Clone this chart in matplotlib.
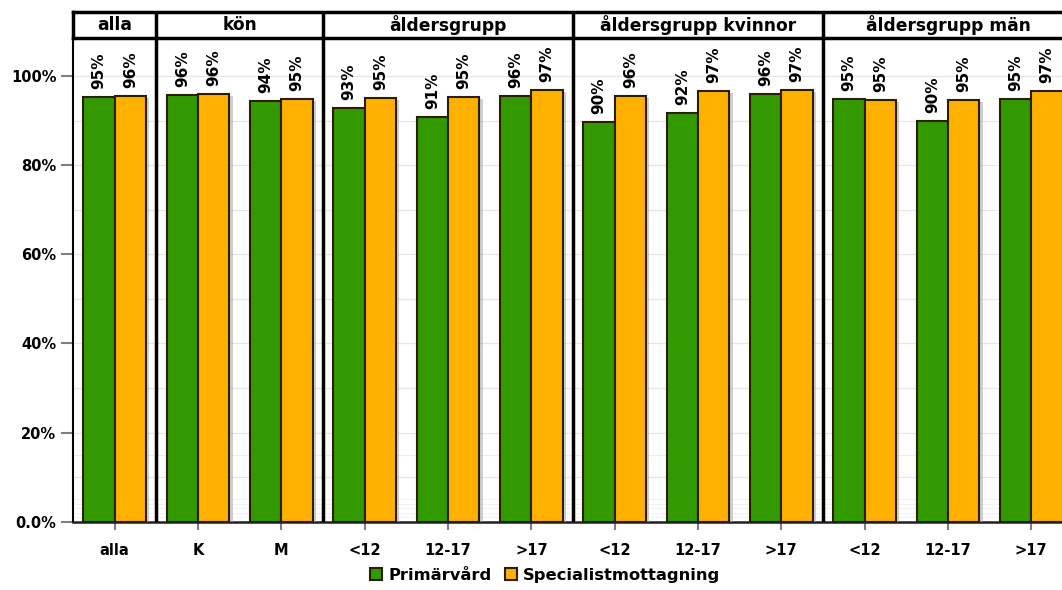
import matplotlib
matplotlib.use('Agg')
import matplotlib.pyplot as plt
from matplotlib.patches import Rectangle
import matplotlib.patheffects as pe

# ---- data ----
categories = ['alla', 'K', 'M', '<12', '12-17', '>17', '<12', '12-17', '>17', '<12', '12-17', '>17']
panels = ['alla', 'kön', 'åldersgrupp', 'åldersgrupp kvinnor', 'åldersgrupp män']
panel_sizes = [1, 2, 3, 3, 3]
primarvard = [95.2, 95.8, 94.3, 92.8, 90.8, 95.6, 89.6, 91.7, 96.0, 94.8, 89.9, 94.8]
specialist = [95.6, 96.0, 94.8, 95.0, 95.3, 96.8, 95.6, 96.6, 96.9, 94.7, 94.6, 96.6]
series_names = ['Primärvård', 'Specialistmottagning']
yticks = [0, 20, 40, 60, 80, 100]
ytick_labels = ['0.0%', '20%', '40%', '60%', '80%', '100%']

GREEN = '#339900'
ORANGE = '#FFB000'
EDGE = '#2a1f05'

plt.rcParams['font.family'] = ['DejaVu Sans']
W, H = 1062, 590
fig = plt.figure(figsize=(W / 100, H / 100), dpi=100)

left = 73 / W
width = 12 * 83.33 / W
y0 = 521.7
ytop = 38.3
ax = fig.add_axes([left, (H - y0) / H, width, (y0 - ytop) / H])
hax = fig.add_axes([left, (H - ytop) / H, width, 26 / H])

n = len(categories)
xs = list(range(n))
bw = 0.375
shadow = [pe.SimplePatchShadow(offset=(2.5, -1.5), shadow_rgbFace='#a0a0a0', alpha=0.5), pe.Normal()]

b1 = ax.bar([x - bw / 2 for x in xs], primarvard, width=bw, color=GREEN,
            edgecolor=EDGE, linewidth=1.5, zorder=3)
b2 = ax.bar([x + bw / 2 for x in xs], specialist, width=bw, color=ORANGE,
            edgecolor=EDGE, linewidth=1.5, zorder=3)
for bars in (b1, b2):
    for r in bars:
        r.set_path_effects(shadow)

for x, v in zip(xs, primarvard):
    ax.text(x - bw / 2, v + 1.8, f'{v:.0f}%', rotation=90, ha='center', va='bottom',
            fontsize=11, fontweight='bold', zorder=5)
for x, v in zip(xs, specialist):
    ax.text(x + bw / 2, v + 1.8, f'{v:.0f}%', rotation=90, ha='center', va='bottom',
            fontsize=11, fontweight='bold', zorder=5)

ax.set_xlim(-0.5, n - 0.5)
ax.set_ylim(0, (y0 - ytop) / 4.457)

# grid
for g in range(10, 101, 10):
    ax.axhline(g, color='#e6e6e6', lw=0.9, zorder=1)
ax.axhline(15, color='#ececec', lw=0.8, zorder=1)
for g in [1, 2, 3, 4, 5]:
    ax.axhline(g, color='#f0f0f0', lw=0.6, zorder=1)

ax.set_yticks(yticks)
ax.set_yticklabels(ytick_labels, fontsize=10.5, fontweight='bold')
ax.set_xticks(xs)
ax.set_xticklabels(categories, fontsize=10.5, fontweight='bold')
ax.tick_params(axis='y', length=9, width=1.5, color='#808080', pad=3)
ax.tick_params(axis='x', length=6, width=1.5, color='#808080', pad=9)

for s in ['top', 'right']:
    ax.spines[s].set_visible(False)
ax.spines['left'].set_linewidth(1.5)
ax.spines['bottom'].set_linewidth(1.8)
ax.spines['bottom'].set_color('#202020')

# panel separators
bounds = []
acc = 0
for s in panel_sizes[:-1]:
    acc += s
    bounds.append(acc - 0.5)
for b in bounds:
    ax.axvline(b, color='black', lw=2.5, zorder=4)

# header strip
hax.set_xlim(-0.5, n - 0.5)
hax.set_ylim(0, 1)
hax.set_xticks([])
hax.set_yticks([])
for s in hax.spines.values():
    s.set_visible(False)
hax.axhline(1, color='black', lw=2.5, clip_on=False)
hax.axhline(0, color='black', lw=2.5, clip_on=False)
hax.axvline(-0.5, color='black', lw=2.5, clip_on=False)
for b in bounds:
    hax.axvline(b, color='black', lw=2.5)
acc = 0
for name, s in zip(panels, panel_sizes):
    c = acc + s / 2 - 0.5
    hax.text(c, 0.5, name, ha='center', va='center', fontsize=12.3, fontweight='bold')
    acc += s

# legend (manual, bottom center)
leg_items = [(370, 389, GREEN, series_names[0]), (505, 523, ORANGE, series_names[1])]
for sx, tx, col, name in leg_items:
    fig.patches.append(Rectangle((sx / W, 1 - 580 / H), 12 / W, 12 / H, transform=fig.transFigure,
                                 facecolor=col, edgecolor=EDGE, linewidth=1.5))
    fig.text(tx / W, 1 - 580 / H, name, ha='left', va='baseline', fontsize=11.8, fontweight='bold')

fig.savefig('out.png', dpi=100)
